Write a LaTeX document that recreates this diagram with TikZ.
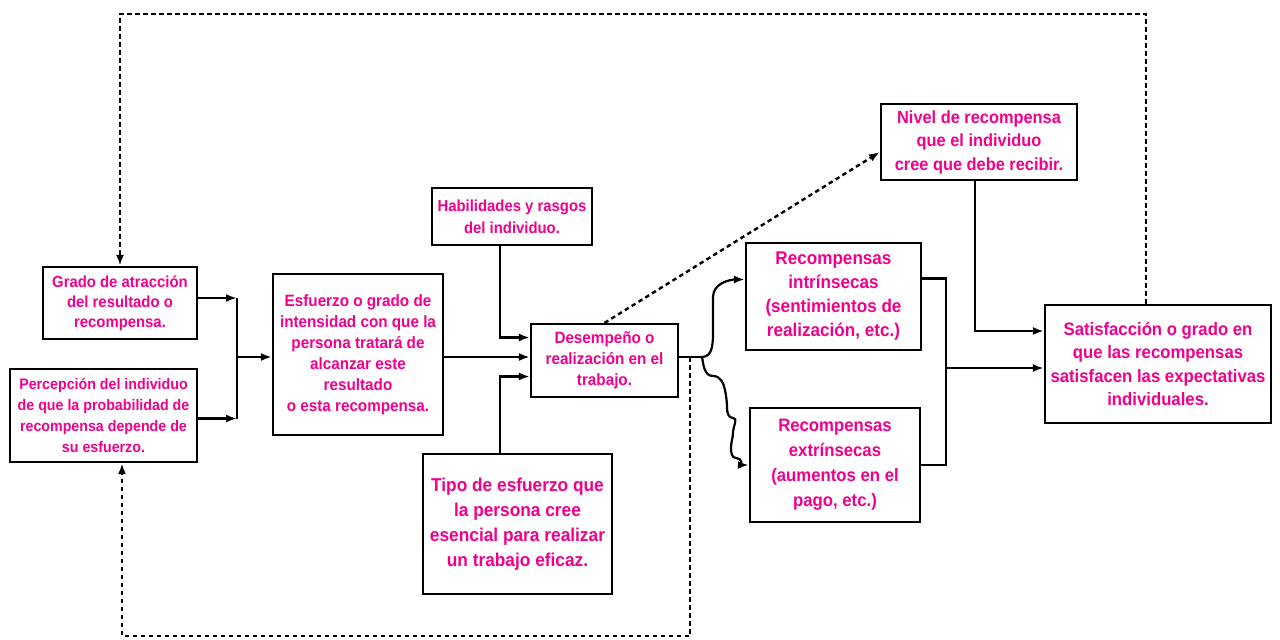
\documentclass[tikz,border=0pt]{standalone}
\usepackage{fontspec}
\setmainfont[FakeStretch=0.93]{Liberation Sans}
\usetikzlibrary{arrows.meta,calc}
\definecolor{pk}{RGB}{240,0,140}
\newcommand\fsz[2]{\fontsize{#1}{#2}\selectfont}
\begin{document}
\begin{tikzpicture}[x=1pt,y=-1pt,
  box/.style={draw, line width=2.2pt, fill=white, align=center, text=pk, inner sep=0pt},
  ln/.style={line width=2.2pt},
  arr/.style={line width=2.2pt, -{Latex[length=11pt,width=8pt]}},
  dsh/.style={line width=2.4pt, dash pattern=on 4.5pt off 3.5pt},
  darr/.style={dsh, -{Latex[length=11pt,width=8pt]}}]
\useasboundingbox[fill=white] (0,0) rectangle (1280,640);

\node[box, minimum width=154pt, minimum height=72pt, font={\bfseries\fsz{16}{20}}] (grado) at (120,303)
  {Grado de atracción\\del resultado o\\recompensa.};
\node[box, minimum width=187pt, minimum height=93pt, font={\bfseries\fsz{15.3}{21}}] (perc) at (103.5,415.5)
  {Percepción del individuo\\de que la probabilidad de\\recompensa depende de\\su esfuerzo.};
\node[box, minimum width=170pt, minimum height=161pt, font={\bfseries\fsz{16.4}{21}}] (esf) at (358,354.5)
  {Esfuerzo o grado de\\intensidad con que la\\persona tratará de\\alcanzar este\\resultado\\o esta recompensa.};
\node[box, minimum width=160pt, minimum height=57pt, font={\bfseries\fsz{16}{22}}] (hab) at (512,216.5)
  {Habilidades y rasgos\\del individuo.};
\node[box, minimum width=147pt, minimum height=73pt, font={\bfseries\fsz{16.4}{21}}] (des) at (604.5,360.5)
  {Desempeño o\\realización en el\\trabajo.};
\node[box, minimum width=189pt, minimum height=140pt, font={\bfseries\fsz{18.6}{25}}] (tipo) at (517.5,524)
  {Tipo de esfuerzo que\\la persona cree\\esencial para realizar\\un trabajo eficaz.};
\node[box, minimum width=175pt, minimum height=107pt, font={\bfseries\fsz{18.4}{24}}] (intr) at (833.5,296.5)
  {Recompensas\\intrínsecas\\(sentimientos de\\realización, etc.)};
\node[box, minimum width=170pt, minimum height=114pt, font={\bfseries\fsz{18}{25}}] (extr) at (835,465)
  {Recompensas\\extrínsecas\\(aumentos en el\\pago, etc.)};
\node[box, minimum width=196pt, minimum height=76pt, font={\bfseries\fsz{17.6}{23.5}}] (niv) at (979,142)
  {Nivel de recompensa\\que el individuo\\cree que debe recibir.};
\node[box, minimum width=226pt, minimum height=118pt, font={\bfseries\fsz{18}{23.5}}] (sat) at (1158,364)
  {Satisfacción o grado en\\que las recompensas\\satisfacen las expectativas\\individuales.};

% left joiner
\coordinate (jL) at (237,357);
\draw[arr] ([yshift=5pt]grado.east) -- ([yshift=5pt]grado.east -| jL);
\draw[arr] ([yshift=-3pt]perc.east) -- ([yshift=-3pt]perc.east -| jL);
\draw[ln] ([yshift=5pt]grado.east -| jL) -- ([yshift=-3pt]perc.east -| jL);
\draw[arr] (jL) -- (esf.west |- jL);

% into Desempeño
\draw[arr] (esf.east |- jL) -- (des.west |- jL);
\draw[arr] ([xshift=-12pt]hab.south) |- ([yshift=23pt]des.west);
\draw[arr] ([xshift=-17.5pt]tipo.north) |- ([yshift=-16pt]des.west);

% branch to rewards
\coordinate (jD) at (702,357);
\draw[ln] (des.east |- jD) -- (jD);
\draw[arr] (jD) to[out=0,in=-90] (713,330) -- (713,297) to[out=90,in=180] ([yshift=17pt]intr.west);
\draw[arr] (jD) to[out=-80,in=180] (713,376) to[out=0,in=100] (725,390)
  to[out=-80,in=90] (727,408) to[out=-90,in=180] (733,418)
  to[out=0,in=90] (733,432) to[out=-90,in=90] (731,448)
  to[out=-90,in=180] (736,458) to[out=0,in=180] (extr.west);

% dashed to Nivel
\draw[darr] (des.north) -- ([yshift=-10pt]niv.west);

% rewards joiner
\coordinate (jR) at (946,368);
\draw[ln] ([yshift=18pt]intr.east) -| (jR);
\draw[ln] (extr.east) -| (jR);
\draw[arr] (jR) -- (sat.west |- jR);
\draw[arr] ([xshift=-4pt]niv.south) |- ([yshift=33pt]sat.west);

% feedback loops
\coordinate (topy) at (0,14);
\draw[darr] ([xshift=-12pt]sat.north) |- (grado.north |- topy) -- (grado.north);
\coordinate (boty) at (0,636);
\draw[darr] (690,357) |- ([xshift=18.5pt]perc.south |- boty) -- ([xshift=18.5pt]perc.south);
\end{tikzpicture}
\end{document}
